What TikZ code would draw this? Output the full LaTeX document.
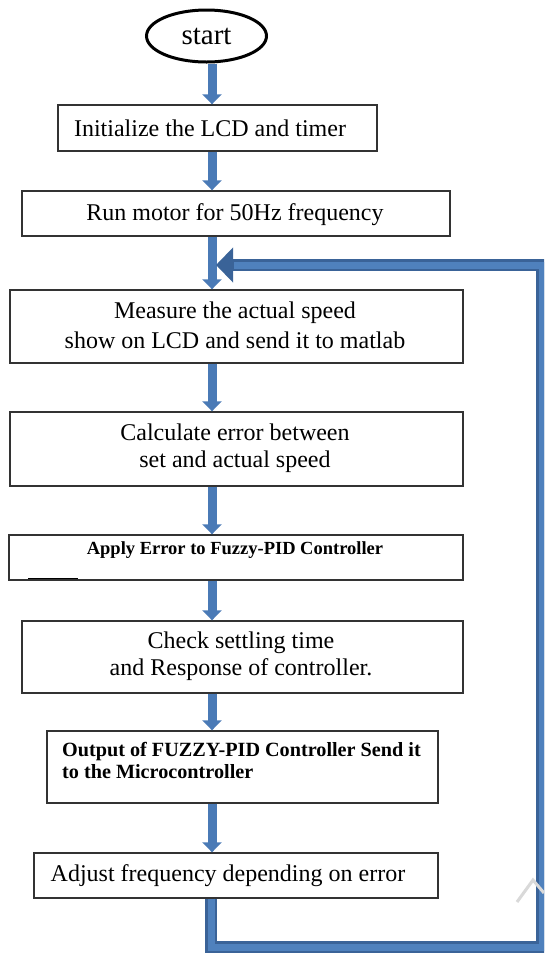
\documentclass[tikz,border=0pt]{standalone}
\usepackage{fontspec}
\setmainfont{Liberation Serif}
\usetikzlibrary{arrows.meta,shapes.geometric}
\definecolor{arrblue}{HTML}{4A7AB6}
\definecolor{arrdark}{HTML}{3A6398}
\definecolor{arrlight}{HTML}{4F81BD}
\definecolor{boxline}{HTML}{333333}
\begin{document}
\begin{tikzpicture}[x=1pt,y=-1pt,
  box/.style={draw=boxline, line width=1.4pt, fill=white, inner sep=0pt},
  txt/.style={font=\fontsize{24}{28}\selectfont, align=center, inner sep=0pt},
  btxt/.style={font=\bfseries\fontsize{18.5}{22}\selectfont, align=left, inner sep=0pt},
  flowarrow/.style={draw=arrblue, line width=9pt, -{Triangle[width=19pt,length=10pt]}},
  loopouter/.style={draw=arrdark, line width=12pt, line join=miter, -{Triangle[width=34pt,length=17pt]}},
  loopinner/.style={draw=arrlight, line width=7pt, line join=miter}]
\useasboundingbox (0,0) rectangle (544,959);
\clip (0,0) rectangle (544,959);
\fill[white] (0,0) rectangle (544,959);

% coordinates for connectors
\coordinate (ax) at (212,0);
\coordinate (lx) at (211,0);
\coordinate (lbr) at (542,947);
\coordinate (loopin) at (216,265);
\coordinate (loophead) at (234,265);

% boxes (positions)
\node[draw=black, line width=3pt, ellipse, minimum width=120pt, minimum height=52pt, inner sep=0pt,
      font=\fontsize{29}{32}\selectfont] (start) at (206.5,36) {start};
\node[box, minimum width=319pt, minimum height=46pt] (b1) at (217.5,128) {};
\node[box, minimum width=428pt, minimum height=45pt] (b2) at (236,213.5) {};
\node[box, minimum width=453pt, minimum height=73pt] (b3) at (236.5,326.5) {};
\node[box, minimum width=453pt, minimum height=74pt] (b4) at (236.5,449) {};
\node[box, minimum width=454pt, minimum height=45pt] (b5) at (236,557.5) {};
\node[box, minimum width=441pt, minimum height=72pt] (b6) at (242.5,657) {};
\node[box, minimum width=391pt, minimum height=72pt] (b7) at (242.5,767) {};
\node[box, minimum width=404pt, minimum height=45pt] (b8) at (236,875.5) {};

% connectors
\draw[flowarrow] (start.south -| ax) -- (b1.north -| ax);
\draw[flowarrow] (b1.south -| ax) -- (b2.north -| ax);
\draw[flowarrow] (b2.south -| ax) -- (b3.north -| ax);
\draw[flowarrow] (b3.south -| ax) -- (b4.north -| ax);
\draw[flowarrow] (b4.south -| ax) -- (b5.north -| ax);
\draw[flowarrow] (b5.south -| ax) -- (b6.north -| ax);
\draw[flowarrow] (b6.south -| ax) -- (b7.north -| ax);
\draw[flowarrow] (b7.south -| ax) -- (b8.north -| ax);
\draw[loopouter] (b8.south -| lx) |- (lbr) |- (loopin);
\draw[loopinner] (b8.south -| lx) |- (lbr) |- (loophead);

% texts
\node[txt] (t1) at (210,128) {Initialize the LCD and timer};
\node[txt] (t2) at (235,215) {Run motor for 50Hz frequency};
\node[txt, font=\fontsize{24}{30}\selectfont] (t3) at (235,325) {Measure the actual speed\\show on LCD and send it to matlab};
\node[txt, font=\fontsize{24}{27}\selectfont] (t4) at (235,448.5) {Calculate error between\\set and actual speed};
\node[btxt] (t5) at (235,550) {Apply Error to Fuzzy-PID Controller};
\node[txt, font=\fontsize{24}{27}\selectfont] (t6) at (241,656.5) {Check settling time\\and Response of controller.};
\node[btxt, font=\bfseries\fontsize{20.2}{22}\selectfont, anchor=north west] (t7) at (62,742) {Output of FUZZY-PID Controller Send it\\to the Microcontroller};
\node[txt] (t8) at (228,876) {Adjust frequency depending on error};

% small artefacts
\draw[line width=1pt] (28,578) -- (78,578);
\draw[gray!30, line width=3pt] (517,902) -- (533,880) -- (544,893);
\end{tikzpicture}
\end{document}
